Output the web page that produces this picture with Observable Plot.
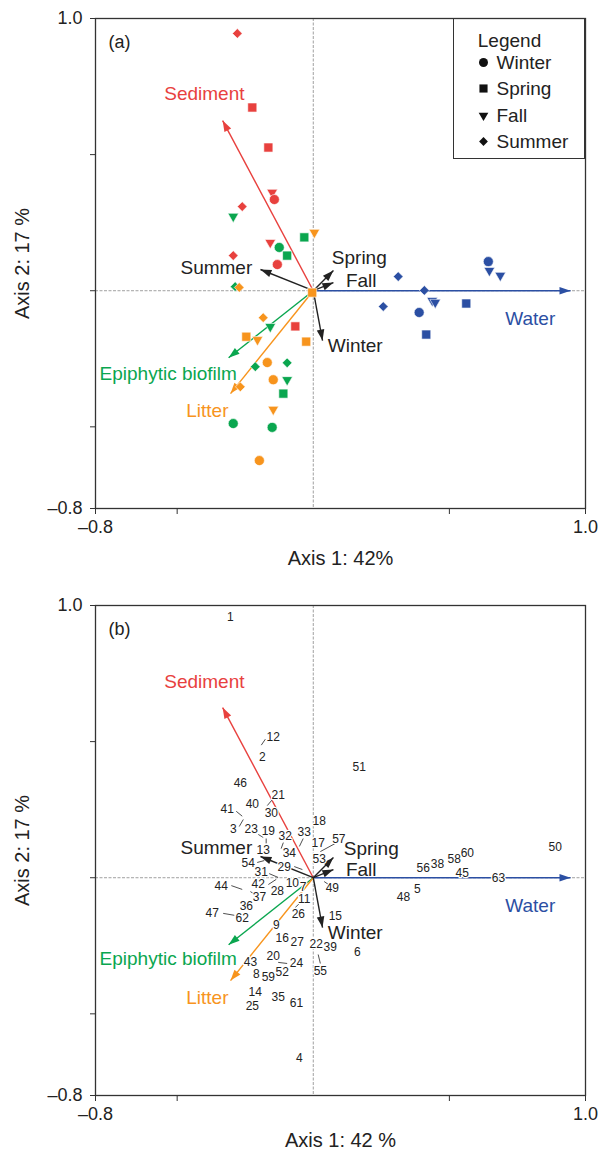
<!DOCTYPE html>
<html><head><meta charset="utf-8">
<script src="https://cdn.jsdelivr.net/npm/d3@7"></script>
<script src="https://cdn.jsdelivr.net/npm/@observablehq/plot@0.6"></script>
<style>
html,body{margin:0;padding:0;background:#fff;overflow:hidden;}
#wrap{position:relative;width:601px;height:1151px;font-family:"Liberation Sans",Arial,Helvetica,sans-serif;}
#wrap svg{display:block;}
#legendBox{position:absolute;left:453px;top:18px;width:132px;height:141px;border:1.2px solid #333;box-sizing:border-box;pointer-events:none;}
</style></head><body><div id="wrap"></div>
<script>
// ---------- data ----------
const groups = ["Sediment", "Epiphytic biofilm", "Litter", "Water"];
const groupColors = ["#e8413e", "#0aa64f", "#f7941d", "#2b4fa3"];
const seasons = ["Winter", "Spring", "Fall", "Summer"];

// panel (a) samples, per substrate
const sedSeason = ["Summer","Spring","Spring","Fall","Winter","Summer","Fall","Summer","Winter","Spring"];
const sedX = [-0.279,-0.224,-0.165,-0.151,-0.143,-0.261,-0.158,-0.294,-0.132,-0.066];
const sedY = [0.945,0.673,0.526,0.361,0.335,0.309,0.177,0.129,0.096,-0.131];

const bioSeason = ["Fall","Spring","Winter","Spring","Summer","Fall","Summer","Summer","Fall","Spring","Winter","Winter"];
const bioX = [-0.294,-0.033,-0.125,-0.096,-0.287,-0.158,-0.213,-0.096,-0.096,-0.110,-0.294,-0.151];
const bioY = [0.273,0.196,0.159,0.129,0.015,-0.132,-0.279,-0.265,-0.327,-0.378,-0.488,-0.502];

const litSeason = ["Fall","Summer","Spring","Summer","Spring","Fall","Spring","Winter","Winter","Summer","Fall","Winter"];
const litX = [0.004,-0.272,-0.004,-0.184,-0.246,-0.205,-0.026,-0.169,-0.147,-0.268,-0.147,-0.198];
const litY = [0.214,0.012,-0.007,-0.099,-0.169,-0.180,-0.187,-0.264,-0.327,-0.353,-0.436,-0.624];

const watSeason = ["Summer","Winter","Fall","Fall","Summer","Fall","Fall","Summer","Spring","Winter","Spring"];
const watX = [0.312,0.643,0.647,0.687,0.408,0.437,0.448,0.257,0.562,0.389,0.415];
const watY = [0.052,0.107,0.074,0.056,0.001,-0.036,-0.043,-0.058,-0.047,-0.080,-0.161];

// explanatory vectors (both panels)
const vectorNames = ["Sediment","Water","Epiphytic biofilm","Litter","Summer","Spring","Fall","Winter"];
const vectorX = [-0.333, 0.945, -0.311, -0.304, -0.194, 0.074, 0.074, 0.034];
const vectorY = [0.625, 0.0, -0.246, -0.378, 0.078, 0.074, 0.030, -0.183];
const vectorLabelXa = [-0.400, 0.797, -0.533, -0.389, -0.356, 0.169, 0.176, 0.154];
const vectorLabelYa = [0.724, -0.102, -0.304, -0.440, 0.082, 0.122, 0.037, -0.201];
const vectorLabelXb = [-0.400, 0.797, -0.533, -0.389, -0.356, 0.213, 0.176, 0.154];
const vectorLabelYb = [0.721, -0.103, -0.299, -0.441, 0.110, 0.107, 0.027, -0.201];

// panel (b) sample numbers
const sampleIds = d3.range(1, 64);
const sampleLabelX = [-0.305,-0.187,-0.294,-0.051,0.382,0.162,-0.037,-0.209,-0.136,-0.077,
  -0.033,-0.147,-0.184,-0.213,0.081,-0.114,0.018,0.022,-0.165,-0.147,
  -0.129,0.011,-0.228,-0.062,-0.224,-0.055,-0.059,-0.132,-0.107,-0.154,
  -0.191,-0.103,-0.033,-0.088,-0.129,-0.246,-0.198,0.456,0.062,-0.224,
  -0.316,-0.202,-0.231,-0.338,0.547,-0.268,-0.371,0.331,0.070,0.889,
  0.169,-0.114,0.022,-0.239,0.026,0.404,0.094,0.518,-0.165,0.566,
  -0.062,-0.261,0.680];
const sampleLabelY = [0.956,0.442,0.177,-0.661,-0.043,-0.275,-0.036,-0.356,-0.175,-0.021,
  -0.080,0.515,0.100,-0.420,-0.143,-0.223,0.126,0.207,0.170,-0.289,
  0.302,-0.245,0.177,-0.315,-0.473,-0.135,-0.238,-0.050,0.038,0.236,
  0.019,0.152,0.166,0.089,-0.440,-0.106,-0.073,0.049,-0.256,0.269,
  0.251,-0.025,-0.312,-0.032,0.016,0.346,-0.130,-0.072,-0.040,0.111,
  0.405,-0.348,0.067,0.052,-0.345,0.034,0.143,0.067,-0.367,0.089,
  -0.459,-0.149,-0.003];
// leader lines linking crowded labels to their samples
const leaderX1 = [-0.283,-0.272,-0.147,-0.176,-0.202,-0.173,-0.110,-0.037,0.081,-0.206,-0.070,-0.162,-0.165,-0.301,-0.231,-0.331,-0.051,0.040,-0.184,-0.129,0.018];
const leaderY1 = [0.244,0.188,0.291,0.509,0.159,0.144,0.129,0.144,0.126,0.056,0.041,0.015,-0.025,-0.029,-0.051,-0.131,-0.095,-0.014,-0.348,-0.311,-0.282];
const leaderX2 = [-0.261,-0.257,-0.169,-0.191,-0.184,-0.173,-0.118,-0.051,0.026,-0.180,-0.040,-0.129,-0.136,-0.261,-0.209,-0.290,-0.066,0.062,-0.151,-0.096,0.026];
const leaderY2 = [0.226,0.214,0.265,0.487,0.148,0.126,0.107,0.115,0.096,0.063,0.030,0.001,-0.006,-0.043,-0.065,-0.138,-0.109,-0.029,-0.348,-0.315,-0.315];

// ---------- build tables ----------
const colorOf = name => groups.includes(name) ? groupColors[groups.indexOf(name)] : "#222";
const samples = [];
[[sedSeason, sedX, sedY], [bioSeason, bioX, bioY], [litSeason, litX, litY], [watSeason, watX, watY]]
  .forEach(([s, xs, ys], g) => s.forEach((season, i) => samples.push({group: groups[g], season, x: xs[i], y: ys[i]})));
const makeVectors = (labelX, labelY) => vectorNames.map((name, i) => ({name, x: vectorX[i], y: vectorY[i],
  lx: labelX[i], ly: labelY[i], color: colorOf(name)}));
const labels = sampleIds.map((id, i) => ({id, x: sampleLabelX[i], y: sampleLabelY[i]}));
const leaders = leaderX1.map((v, i) => ({x1: v, y1: leaderY1[i], x2: leaderX2[i], y2: leaderY2[i]}));

// ---------- styling ----------
const FONT = "Liberation Sans, Arial, Helvetica, sans-serif";
const symbolOf = {Winter: "circle", Spring: "square", Fall: "triangle", Summer: "diamond2"};
const rOf = {Winter: 5, Spring: 5.1, Fall: 4, Summer: 4.4};
const rotOf = {Winter: 0, Spring: 0, Fall: 180, Summer: 0};
const head = {draw(ctx) { ctx.moveTo(0, 0); ctx.lineTo(-3.8, 11); ctx.lineTo(3.8, 11); ctx.closePath(); }};
const tickFmt = d => d === 1 ? "1.0" : d === -0.8 ? "\u20130.8" : "";

function baseMarks(xTitle, titleDy, letter, letterDy) {
  return [
    Plot.ruleX([0], {stroke: "#a0a0a0", strokeDasharray: "3,1.5", strokeWidth: 1}),
    Plot.ruleY([0], {stroke: "#a0a0a0", strokeDasharray: "3,1.5", strokeWidth: 1}),
    Plot.axisX({ticks: [-0.8, -0.5, 0.5, 1], tickFormat: tickFmt, tickSize: 6, tickPadding: 6, fontSize: 18, label: null, stroke: "#333"}),
    Plot.axisY({ticks: [-0.8, -0.5, 0, 0.5, 1], tickFormat: tickFmt, tickSize: 5, tickPadding: 8, fontSize: 18, label: null, stroke: "#333"}),
    Plot.frame({stroke: "#333", strokeWidth: 1.3}),
    Plot.text([xTitle], {text: d => d, frameAnchor: "bottom", dy: titleDy, lineAnchor: "middle", textAnchor: "middle", fontSize: 20, fill: "#222"}),
    Plot.text(["Axis 2: 17 %"], {text: d => d, frameAnchor: "left", dx: -73, rotate: -90, lineAnchor: "middle", textAnchor: "middle", fontSize: 20, fill: "#222"}),
    Plot.text([letter], {text: d => d, frameAnchor: "top-left", dx: 13, dy: letterDy, fontSize: 18, fill: "#222"})
  ];
}
function vectorMarks(vectors) {
  return [
    Plot.link(vectors, {x1: () => 0, y1: () => 0, x2: "x", y2: "y", stroke: "color", strokeWidth: 1.4}),
    Plot.dot(vectors, {x: "x", y: "y", symbol: head, fill: "color", stroke: "none",
      rotate: d => Math.atan2(d.x, d.y) * 180 / Math.PI}),
    Plot.text(vectors, {x: "lx", y: "ly", text: "name", fill: "color", fontSize: 19})
  ];
}

const wrap = document.getElementById("wrap");

// ---------- panel (a) ----------
const order = ["Fall", "Winter", "Spring", "Summer"];
const pointMarks = order.map(s => Plot.dot(samples.filter(d => d.season === s), {
  x: "x", y: "y", fill: d => colorOf(d.group), symbol: () => symbolOf[s], r: rOf[s], rotate: rotOf[s],
  stroke: "white", strokeWidth: 0.6
}));
const legendRows = [44, 70, 97, 123];
const legendMarks = [
  Plot.text(["Legend"], {text: d => d, frameAnchor: "top-right", dx: -76, dy: 22, textAnchor: "middle", lineAnchor: "middle", fontSize: 19, fill: "#222"}),
  ...seasons.map((s, i) => Plot.dot([s], {frameAnchor: "top-right", dx: -102, dy: legendRows[i],
    symbol: symbolOf[s], r: rOf[s] * 0.9, rotate: rotOf[s], fill: "#111"})),
  ...seasons.map((s, i) => Plot.text([s], {text: d => d, frameAnchor: "top-right", dx: -89, dy: legendRows[i],
    textAnchor: "start", lineAnchor: "middle", fontSize: 19, fill: "#222"}))
];

const plotA = Plot.plot({
  width: 601, height: 585,
  marginTop: 18, marginBottom: 77, marginLeft: 95, marginRight: 16,
  x: {domain: [-0.8, 1]}, y: {domain: [-0.8, 1]},
  color: {type: "identity"},
  style: {fontFamily: FONT, background: "white", color: "#222"},
  marks: [
    ...baseMarks("Axis 1: 42%", 50, "(a)", 17),
    ...vectorMarks(makeVectors(vectorLabelXa, vectorLabelYa)),
    ...pointMarks,
    ...legendMarks
  ]
});
wrap.appendChild(plotA);
const box = document.createElement("div"); box.id = "legendBox"; wrap.appendChild(box);

// ---------- panel (b) ----------
const plotB = Plot.plot({
  width: 601, height: 566,
  marginTop: 20, marginBottom: 56, marginLeft: 95, marginRight: 16,
  x: {domain: [-0.8, 1]}, y: {domain: [-0.8, 1]},
  color: {type: "identity"},
  style: {fontFamily: FONT, background: "white", color: "#222"},
  marks: [
    ...baseMarks("Axis 1: 42 %", 45, "(b)", 17),
    ...vectorMarks(makeVectors(vectorLabelXb, vectorLabelYb)),
    Plot.link(leaders, {x1: "x1", y1: "y1", x2: "x2", y2: "y2", stroke: "#222", strokeWidth: 0.8}),
    Plot.text(labels, {x: "x", y: "y", text: "id", fontSize: 12, fill: "#222", stroke: "white", strokeWidth: 2.5})
  ]
});
wrap.appendChild(plotB);
</script></body></html>
